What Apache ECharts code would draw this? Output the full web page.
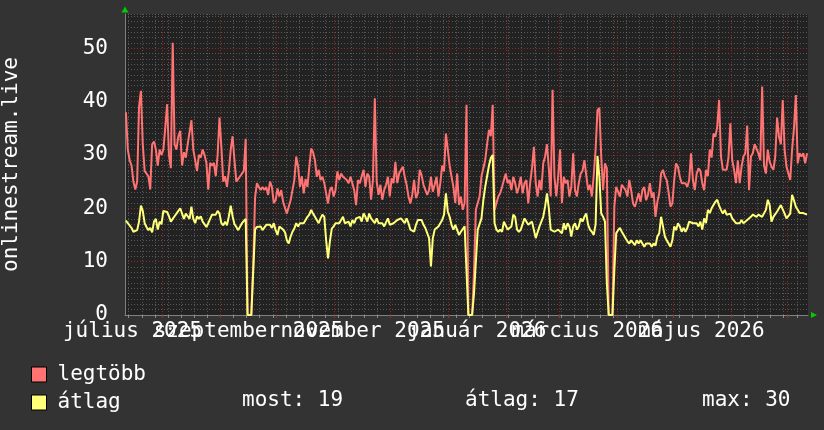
<!DOCTYPE html>
<html>
<head>
<meta charset="utf-8">
<script src="https://cdn.jsdelivr.net/npm/echarts@6/dist/echarts.min.js"></script>
<style>
html, body { margin: 0; padding: 0; background: #333333; }
#chart { width: 824px; height: 430px; }
</style>
</head>
<body>
<div id="chart"></div>
<script>
// napi adatok, 2025-07-12 -> 2026-07-11
const firstDay = '2025-07-12'
const dayCount = 365

const legtobb = [
	38, 31, 29, 28, 25, 23.5, 25, 39, 42, 32,
	27, 26.5, 26, 23.5, 32, 32.5, 31, 28, 31, 30,
	31, 35, 39.5, 30, 27.5, 51, 32, 31, 33.5, 34.5,
	28, 30.5, 29.5, 32, 32, 36.5, 31, 29, 27, 30,
	29.5, 31, 30, 28.5, 23.5, 28.5, 28, 28.5, 26, 30,
	37, 31.5, 25, 26, 24, 27, 31, 33.5, 29, 25,
	25.5, 26, 26.5, 27, 33, 0, 0, 0, 9, 22,
	24.7, 24, 23.4, 24, 23.4, 24, 22.5, 25, 24, 21,
	21.5, 23.7, 22.2, 23.4, 21.2, 21.5, 19, 20.3, 21.5, 23.4,
	25.3, 29.7, 27.8, 24, 26, 22.8, 25.5, 24, 27.8, 31.2,
	30.5, 29, 25.9, 27.2, 25.3, 25.9, 24.7, 22.8, 20.9, 23.4,
	24, 22.2, 23.4, 26.9, 25.3, 26.5, 25.9, 26.2, 25.3, 24.7,
	25.9, 25.6, 23.4, 20.6, 25.3, 24.7, 26, 27.2, 24, 26.5,
	25.9, 21.6, 25.3, 40.6, 25, 22.5, 24.4, 21.6, 23.4, 24.4,
	25.9, 22.2, 25.6, 24.7, 28.7, 24.7, 26.5, 27.2, 27.8, 25.9,
	24.4, 22.2, 20.9, 22.5, 25.3, 21.9, 22.8, 27.2, 26.2, 24.4,
	24.7, 22.5, 23.4, 25.9, 23.1, 24.4, 25.9, 22.2, 24.7, 28,
	26.9, 34, 31, 28, 25.9, 24, 21, 26.5, 20.6, 22.2,
	19.7, 21, 39.4, 0, 0, 0, 8, 19.7, 21, 22.2,
	26, 27.5, 29, 32, 34.7, 33.5, 39.4, 19.7, 19.7, 22.2,
	22.8, 24, 25.3, 26.5, 24.7, 25.3, 23.4, 25.9, 24.7, 22.8,
	24, 25.9, 22.8, 24.7, 25.3, 20.9, 24.7, 27.5, 31.5, 24.7,
	22.2, 25.3, 23.4, 28.4, 29.7, 32, 27.5, 22.2, 42.2, 25.9,
	22.2, 25.9, 31, 21, 25.9, 24.7, 25.3, 22.2, 24, 30.3,
	23.4, 22.2, 24.7, 26.5, 27, 29, 28.7, 23.4, 24.4, 22.2,
	26.2, 31, 38.4, 38.8, 29.7, 23.4, 28.4, 27.5, 0, 0,
	0, 20.3, 24, 24, 22.2, 24.4, 24.4, 23.4, 22.2, 25.3,
	23.4, 20.9, 20.3, 21.5, 22.8, 21.2, 23.4, 24, 21.5, 22.5,
	24.7, 22, 23, 18.4, 21.2, 22.8, 26.5, 27.2, 25.9, 25.3,
	23, 20.3, 20.9, 25.3, 28.4, 27.8, 25.9, 24.7, 24.7, 24.7,
	24, 25.3, 30.3, 25.3, 23.4, 26.5, 27.5, 27, 24.7, 23.4,
	27.2, 26, 31, 29.5, 34, 33.4, 35.3, 40.3, 29.7, 27.2,
	26.9, 27.2, 29.5, 35.9, 29, 27.2, 24.7, 29, 24.7, 27.8,
	29.7, 30.3, 35.5, 23.4, 29.7, 30.3, 32, 32, 30.3, 29,
	42.8, 28, 26.5, 31, 28.7, 27.8, 27.2, 29.7, 37, 33.4,
	32, 40.3, 31, 27.8, 27.5, 25.3, 31, 35, 41.2, 28.4,
	30.3, 29.7, 30.3, 28.4, 30.3
]

const atlag = [
	17.7, 17.2, 17.5, 16.3, 15.6, 15.9, 15.9, 17.5, 20.5, 19.5,
	17.2, 16.5, 15.9, 16.3, 15.5, 17.5, 18, 16, 17.5, 17,
	19.5, 19.5, 19.3, 18.5, 17.5, 18, 18.5, 19, 19.5, 20,
	19, 18, 19, 18.5, 18, 20.3, 18, 17.2, 18.5, 18,
	18.5, 17.5, 17.8, 16.5, 17.2, 18, 18.8, 18.5, 18.8, 19.5,
	19, 17.2, 16.8, 17.5, 16.8, 18.5, 20.5, 18.5, 17, 16.5,
	15.9, 16, 17.2, 17.5, 18, 0, 0, 0, 8, 16,
	16.5, 16.2, 16.6, 15.9, 16.2, 16.9, 16.6, 16.9, 16.3, 17.2,
	15.9, 15, 16.6, 16.9, 16, 15.5, 14, 13.4, 14.7, 15.6,
	16.2, 17.2, 16.6, 17.2, 17.5, 17.2, 17.8, 18.4, 18.8, 19.7,
	19, 18.4, 17.8, 17.2, 18.1, 18.8, 18.4, 14, 10.6, 13.8,
	16.2, 16.6, 17.2, 17.5, 17.2, 17.8, 18.4, 17.2, 17.2, 17.5,
	16.6, 17.8, 17.2, 18.1, 17.8, 18.4, 17.5, 19, 18.4, 17.5,
	19, 18.1, 18.4, 17.2, 18.1, 17.2, 16.9, 17.2, 16.6, 16.9,
	18.1, 16.9, 16.6, 17.2, 17.5, 17.8, 17.5, 18.1, 17.8, 17.2,
	18.1, 17.2, 16, 15.9, 15.6, 16.9, 17.8, 18.1, 17.8, 16.9,
	16.3, 16, 14.4, 9.1, 14.4, 16, 16.3, 16.6, 17.2, 17.8,
	18.8, 22.8, 19.4, 18.4, 16.9, 16, 16.9, 16.6, 15, 15.6,
	15.9, 16.6, 16.9, 0, 0, 0, 4, 10, 16, 16.3,
	18.1, 21.5, 24, 26, 28, 29.4, 30, 17.2, 16, 15.6,
	16, 15.6, 17.5, 17.8, 16, 16, 16.6, 18.8, 18.4, 16,
	15.6, 16, 16, 18.1, 18.4, 16.9, 17.2, 17.5, 17.2, 14.4,
	14.7, 16.6, 16.6, 18.4, 20.3, 22.8, 20, 16, 16, 15.6,
	15.3, 16, 16, 15.3, 17.2, 16, 17.2, 16.6, 14.7, 16.6,
	17.2, 16, 16.6, 18.1, 17.5, 18.4, 19, 16.9, 16, 15.6,
	15, 17, 29.8, 25.9, 19, 18.4, 17.5, 6, 0, 0,
	0, 8.4, 15.3, 15.9, 16.3, 15.6, 15, 14.4, 13.8, 13.4,
	14, 13.8, 13.1, 14, 13.4, 14, 13.4, 12.8, 13.4, 13.1,
	13.4, 12.8, 13.4, 13, 14.7, 15.3, 18.4, 16.6, 14.7, 14,
	13.8, 12.8, 14, 16.6, 15.9, 17.2, 16.6, 15.6, 16.3, 15.6,
	16.3, 17.5, 17.5, 17.2, 16.9, 17.2, 16.6, 17.5, 16, 18.1,
	17.2, 19.7, 19.1, 20, 20.3, 21.2, 21.6, 20.5, 19.7, 19,
	19.7, 18.8, 19, 19, 18.1, 18.1, 17.2, 17.5, 17.2, 17.8,
	17.2, 17.5, 17.8, 18.1, 18.4, 18.8, 19.1, 18.4, 18.8, 19.1,
	18.4, 18.1, 19.7, 21.6, 20.6, 17.5, 18.4, 18.4, 19.4, 20,
	20.6, 20.3, 19, 18.1, 17.8, 19, 22.5, 21.5, 20.3, 19.7,
	19.1, 19.4, 19.1, 19, 18.8
]

// honap kezdetek (piros racs) es feliratok (honap kozepen, mint az rrdtool)
const monthStarts = ['2025-08-01', '2025-09-01', '2025-10-01', '2025-11-01', '2025-12-01', '2026-01-01',
	'2026-02-01', '2026-03-01', '2026-04-01', '2026-05-01', '2026-06-01', '2026-07-01']
const labelDates = ['2025-07-16', '2025-09-16', '2025-11-16', '2026-01-16', '2026-03-16', '2026-05-16']
const labelNames = ['július 2025', 'szeptember 2025', 'november 2025', 'január 2026', 'március 2026', 'május 2026']
const yTicks = [0, 10, 20, 30, 40, 50]
const yMax = 56.4

const DAY = 86400000
const FONT = 'DejaVu Sans Mono'
const xMin = new Date(firstDay).getTime()
const xMax = xMin + dayCount * DAY

const toTime = s => new Date(s).getTime()
const monthTicks = monthStarts.map(toTime)
const labelTicks = labelDates.map(toTime)
const labelMap = {}
labelTicks.forEach((t, i) => { labelMap[t] = labelNames[i] })
// a feliratok egymasra csusznak, ezert ket tengelyre osztjuk oket
const labelsOdd = labelTicks.filter((t, i) => i % 2 === 0)
const labelsEven = labelTicks.filter((t, i) => i % 2 === 1)

// hetfok (szurke racs)
const weekTicks = []
for (let t = toTime('2025-07-14'); t < xMax; t += 7 * DAY) weekTicks.push(t)

const pts = arr => arr.map((v, i) => [xMin + (i + 0.5) * DAY, v])

const most = Math.round(atlag[atlag.length - 1])
const avg = Math.round(atlag.reduce((a, b) => a + b, 0) / atlag.length)
const max = Math.round(Math.max(...atlag))

const gridGrey = 'rgba(140,140,140,0.5)'
const gridRed = 'rgba(150,40,40,0.95)'

const labelAxis = (vals) => ({
	type: 'value', min: xMin, max: xMax, position: 'bottom',
	axisLine: { show: false },
	axisTick: { show: false, customValues: vals },
	splitLine: { show: false },
	axisLabel: {
		show: true, customValues: vals,
		showMinLabel: true, showMaxLabel: true,
		formatter: v => labelMap[v] || '',
		color: '#ffffff', fontSize: 21, fontFamily: FONT, margin: 6
	}
})

const myChart = echarts.init(document.getElementById('chart'))
const option = {
	backgroundColor: '#333333',
	animation: false,
	grid: {
		left: 125, right: 16, top: 14, bottom: 115,
		show: true, backgroundColor: '#222222', borderWidth: 0,
		outerBoundsMode: 'none'
	},
	xAxis: [
		{
			type: 'value', min: xMin, max: xMax, position: 'bottom',
			axisLine: { show: true, lineStyle: { color: '#808080', width: 1 } },
			axisTick: { show: true, customValues: weekTicks, length: 3, lineStyle: { color: '#8c8c8c' } },
			splitLine: { show: true, lineStyle: { color: gridGrey, type: [1, 2] } },
			axisLabel: { show: false }
		},
		{
			type: 'value', min: xMin, max: xMax, position: 'bottom',
			axisLine: { show: false },
			axisTick: { show: true, customValues: monthTicks, length: 3, lineStyle: { color: '#a03030' } },
			splitLine: { show: true, lineStyle: { color: gridRed, type: [1, 2] } },
			axisLabel: { show: false }
		},
		labelAxis(labelsOdd),
		labelAxis(labelsEven)
	],
	yAxis: [
		{
			type: 'value', min: 0, max: yMax, interval: 1, position: 'left',
			axisLine: { show: false }, axisTick: { show: false }, axisLabel: { show: false },
			splitLine: { show: true, lineStyle: { color: gridGrey, type: [1, 2] } }
		},
		{
			type: 'value', min: 0, max: yMax, position: 'left',
			axisLine: { show: true, lineStyle: { color: '#808080', width: 1 } },
			axisTick: { show: false, customValues: yTicks },
			splitLine: { show: true, lineStyle: { color: gridRed, type: [1, 2] } },
			axisLabel: { customValues: yTicks, color: '#ffffff', fontSize: 21, fontFamily: FONT, margin: 17 },
			name: 'onlinestream.live', nameLocation: 'middle', nameGap: 103,
			nameTextStyle: { color: '#ffffff', fontSize: 21, fontFamily: FONT }
		}
	],
	legend: {
		orient: 'vertical', left: 26, top: 359,
		itemWidth: 15, itemHeight: 15, itemGap: 7, icon: 'rect',
		itemStyle: { borderColor: '#000000', borderWidth: 1 },
		textStyle: { color: '#ffffff', fontSize: 21, fontFamily: FONT, padding: [0, 0, 0, 6] },
		data: ['legtöbb', 'átlag']
	},
	series: [
		{
			name: 'legtöbb', type: 'line', xAxisIndex: 1, yAxisIndex: 1,
			data: pts(legtobb), showSymbol: false, color: '#ff7373',
			lineStyle: { width: 2, color: '#ff7373' }
		},
		{
			name: 'átlag', type: 'line', xAxisIndex: 1, yAxisIndex: 1,
			data: pts(atlag), showSymbol: false, color: '#ffff78',
			lineStyle: { width: 2, color: '#ffff78' }
		}
	],
	graphic: [
		{ type: 'polygon', shape: { points: [[121.5, 12.5], [128.5, 12.5], [125, 6.5]] }, style: { fill: '#00cc00' } },
		{ type: 'polygon', shape: { points: [[811, 312], [811, 318], [817, 315]] }, style: { fill: '#00cc00' } },
		{ type: 'text', left: 242, top: 390, style: { text: 'most: ' + most, fill: '#ffffff', font: '21px ' + FONT } },
		{ type: 'text', left: 465, top: 390, style: { text: 'átlag: ' + avg, fill: '#ffffff', font: '21px ' + FONT } },
		{ type: 'text', left: 702, top: 390, style: { text: 'max: ' + max, fill: '#ffffff', font: '21px ' + FONT } }
	]
}

option && myChart.setOption(option)
</script>
</body>
</html>
